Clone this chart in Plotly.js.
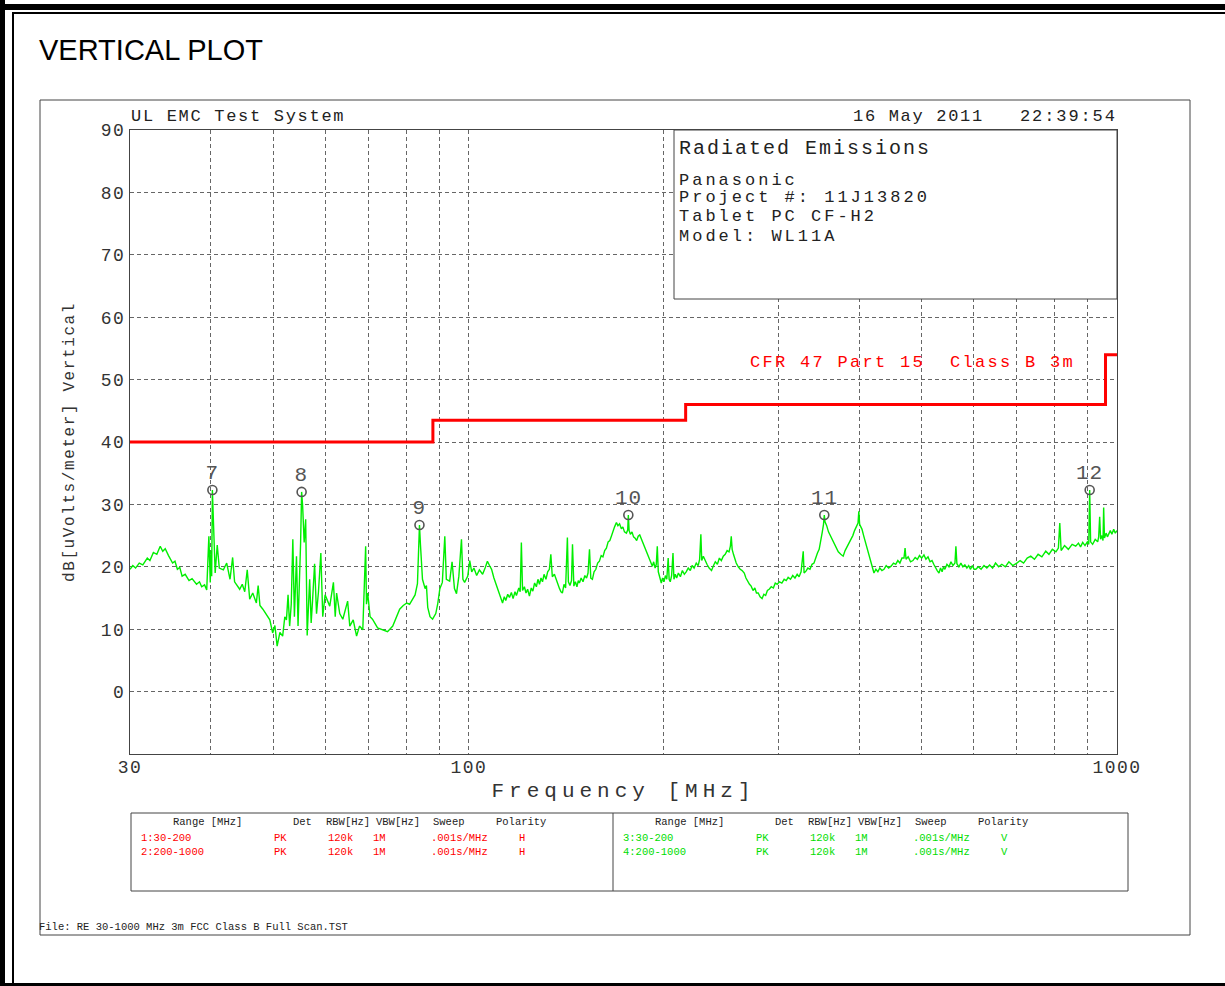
<!DOCTYPE html>
<html><head><meta charset="utf-8">
<script src="https://cdn.plot.ly/plotly-3.0.1.min.js"></script>
<style>
html,body{margin:0;padding:0;background:#fff;}
#chart{width:1225px;height:986px;}
.xtick text,.ytick text{letter-spacing:1.5px;}
.g-xtitle text{letter-spacing:5px;}
.g-ytitle text{letter-spacing:1.6px;}
</style></head><body><div id="chart"></div>
<script>
// ---------------- DATA ----------------
// Measured spectrum (vertical polarity), frequency in MHz
const freqMHz = [
 30.0,30.3,30.6,31.0,31.4,31.9,32.2,32.6,33.0,33.4,33.7,34.0,34.4,34.9,35.2,35.5,35.8,36.1,36.5,37.0,
 37.4,38.0,38.4,38.7,39.1,39.4,39.7,39.9,40.0,40.1,40.2,40.4,40.6,40.9,41.2,41.8,42.3,42.8,43.2,43.5,
 44.3,44.7,45.1,45.5,45.9,46.4,47.0,47.3,47.6,48.1,48.7,49.3,49.8,50.2,50.6,50.9,51.1,51.6,52.0,52.3,
 52.6,52.9,53.2,53.5,53.8,54.2,54.5,55.0,55.2,55.4,55.7,56.0,56.3,56.8,57.1,57.4,57.8,58.2,58.6,59.1,
 59.5,60.0,61.0,61.8,62.2,62.5,63.2,63.9,64.5,65.0,65.5,66.3,67.1,67.8,68.6,69.3,69.5,69.8,70.4,71.0,
 72.3,73.6,74.9,76.3,77.2,78.2,79.2,80.2,81.0,81.9,82.6,83.3,83.9,84.2,84.8,85.6,86.0,86.4,87.1,87.9,
 88.9,89.5,90.2,91.0,91.8,92.3,93.4,94.2,95.0,95.7,96.5,97.4,97.9,98.5,99.6,
 100.3,101.0,101.8,102.8,103.8,105.0,106.0,106.8,107.6,108.4,109.3,110.3,111.5,112.1,112.7,113.4,114.0,114.8,115.5,116.3,
 117.0,117.8,118.4,119.4,120.0,120.5,121.0,121.8,122.5,123.2,124.0,124.8,125.5,126.3,127.1,127.8,128.5,129.2,129.9,130.6,
 131.5,132.3,133.1,133.8,134.5,135.5,136.5,137.2,138.0,138.7,139.4,140.2,141.0,141.9,142.4,143.2,144.0,144.5,145.2,146.0,
 146.8,147.5,148.1,149.0,150.0,151.0,151.9,152.7,153.5,154.2,155.1,156.0,157.0,158.0,159.0,160.0,161.0,162.0,163.0,164.0,
 165.0,165.9,166.8,167.8,168.9,169.8,170.8,171.9,172.8,173.8,175.0,175.8,176.2,176.7,177.5,178.5,179.5,180.5,181.5,182.5,
 183.5,184.5,185.5,186.5,187.8,189.0,190.0,191.0,191.9,192.8,193.8,194.6,195.3,196.0,197.0,198.1,199.0,200.0,201.0,202.0,
 203.0,203.7,204.5,
 205.5,206.5,207.2,208.2,209.2,210.5,212.0,213.5,215.0,216.4,218.0,219.6,221.0,222.6,224.3,225.8,227.0,228.0,228.7,230.0,
 231.5,233.0,234.8,236.8,238.5,240.0,241.8,243.5,245.2,246.9,248.6,250.3,252.0,253.2,254.0,254.8,256.0,257.2,258.5,260.4,
 262.2,264.0,266.0,267.6,269.2,271.0,272.6,274.4,276.2,277.8,279.5,281.4,283.4,285.2,287.0,288.8,290.6,292.8,295.0,297.0,
 299.0,301.5,304.0,306.5,308.8,310.9,313.5,316.0,318.5,321.0,323.2,325.5,328.0,329.0,331.2,333.5,336.0,338.4,340.8,343.0,
 345.0,347.1,349.0,351.0,352.5,353.5,354.4,356.5,358.8,361.0,363.4,366.0,368.8,371.5,374.8,378.0,380.6,383.2,386.0,388.9,
 391.2,393.6,396.0,398.5,399.6,400.8,402.5,404.2,406.5,409.0,411.6,414.3,416.8,419.2,421.7,424.6,427.6,430.5,433.8,437.0,
 440.4,444.2,448.2,452.0,455.6,459.0,462.4,465.8,469.2,471.0,472.6,476.2,480.2,484.3,488.2,492.0,495.8,499.6,503.6,507.2,
 511.0,514.6,518.3,521.5,524.8,528.0,531.3,534.2,537.2,540.0,542.6,546.5,550.5,554.4,558.4,562.3,564.2,566.2,570.2,574.3,
 578.4,582.5,586.6,590.4,594.0,598.2,601.8,605.6,611.0,617.0,623.5,629.7,636.0,642.8,649.5,656.8,664.2,672.5,681.0,690.5,
 700.5,708.8,717.5,726.8,736.1,745.8,755.6,765.8,776.3,785.2,794.8,805.0,812.0,816.0,820.0,830.0,841.2,852.6,863.6,872.0,
 878.5,885.3,892.5,900.0,904.5,907.5,910.5,917.0,925.5,933.7,937.0,940.3,943.5,948.0,951.5,953.7,956.5,962.0,966.5,970.8,
 976.5,982.0,988.3,994.0,1000.0
];
// Measured level, dB[uV/m]
const levelDb = [
 19.6,20.2,19.8,20.6,20.3,21.4,21.0,22.3,22.0,23.3,22.5,22.9,21.8,20.6,20.9,19.6,19.9,18.5,18.8,17.8,
 18.1,17.2,17.6,16.8,17.1,16.3,24.9,17.5,22.6,18.5,32.3,26.8,19.0,23.5,19.8,19.5,20.6,18.0,21.5,17.6,
 16.4,17.2,16.0,19.5,14.8,15.8,14.2,17.0,13.8,13.2,12.4,11.5,9.4,10.6,7.3,9.0,9.5,8.9,12.0,11.5,
 15.5,10.5,14.0,24.4,12.0,21.7,10.5,23.9,32.0,29.7,23.9,27.6,9.0,18.0,11.0,14.8,20.5,12.5,16.0,22.2,
 12.0,15.5,13.7,17.5,12.0,15.8,12.5,11.6,13.0,14.5,10.5,11.5,8.9,10.5,9.9,23.3,14.0,15.8,12.0,11.6,
 10.2,9.9,9.6,10.5,11.8,13.2,13.8,14.2,14.0,14.8,15.5,17.3,26.7,23.5,18.0,16.5,17.0,13.5,12.0,11.6,
 12.5,14.0,16.5,17.5,24.9,18.0,17.7,20.8,16.5,15.7,18.5,24.4,18.0,17.5,18.5,
 21.0,19.2,19.8,18.6,19.5,18.8,19.9,20.9,20.2,19.6,18.2,16.9,15.6,14.6,14.2,15.2,14.6,15.6,15.1,15.9,
 14.9,16.0,15.4,16.6,16.0,23.9,16.2,16.8,15.8,16.4,15.3,16.6,16.1,17.4,16.8,18.0,17.2,18.2,17.6,18.8,
 18.0,19.2,19.6,22.0,18.4,18.8,17.8,17.0,16.5,16.0,15.8,17.2,16.6,24.7,17.6,17.0,17.8,23.6,16.9,17.6,
 16.8,17.8,17.4,18.2,17.6,18.6,18.2,19.0,22.8,18.2,18.0,19.2,19.6,20.6,20.9,21.8,21.6,22.6,23.0,24.0,
 24.2,24.9,25.8,26.4,27.1,26.6,26.9,26.1,26.4,25.6,25.4,25.9,28.3,25.8,25.2,25.6,24.8,24.6,24.2,24.9,
 25.1,24.5,24.0,23.4,22.6,21.9,21.2,20.6,20.1,20.8,19.8,20.4,23.3,19.2,18.2,17.4,18.2,17.6,18.6,18.0,
 21.4,18.0,17.6,
 18.6,22.2,18.0,18.8,18.2,19.0,18.4,19.4,18.8,19.2,19.8,19.4,20.2,19.8,20.6,20.2,21.2,25.2,21.0,21.7,
 21.0,20.4,19.8,19.4,20.2,20.8,20.4,21.4,21.0,21.7,22.0,22.6,22.4,23.3,24.9,22.8,22.0,21.2,20.6,20.0,
 19.6,19.4,19.0,18.2,17.6,17.2,16.9,16.2,16.6,15.8,15.8,15.2,14.9,15.6,15.4,16.2,16.4,16.8,16.6,17.4,
 17.2,17.6,17.4,18.0,17.8,18.3,18.0,18.6,18.2,18.8,18.4,19.2,22.5,19.0,19.3,19.8,19.6,20.4,20.6,21.6,
 22.2,22.8,24.0,25.6,26.8,28.3,27.2,26.6,25.6,25.0,24.6,23.8,23.0,22.4,22.0,21.7,22.6,23.2,23.8,24.4,
 25.0,25.8,26.4,27.0,28.9,26.8,26.4,26.0,25.0,24.0,23.0,22.2,21.2,20.2,19.0,19.6,19.2,19.8,19.4,19.6,
 20.2,19.8,20.1,20.6,20.4,21.0,20.6,21.4,21.4,23.0,21.2,21.6,20.8,21.0,21.5,21.2,21.8,21.4,21.9,21.2,
 21.6,20.8,21.0,20.4,19.8,19.4,19.0,19.8,19.2,20.0,19.6,20.4,20.0,20.8,20.2,20.6,23.3,20.5,20.0,20.6,
 20.0,20.3,19.8,20.2,19.6,20.2,19.6,19.6,20.0,19.6,20.2,19.8,20.3,19.8,20.6,20.0,20.4,20.0,20.8,20.2,
 20.6,21.0,20.6,21.4,21.7,21.2,22.0,21.6,22.5,22.0,22.8,22.4,23.0,27.0,22.6,23.4,22.8,23.6,23.3,23.8,
 23.2,23.9,23.4,24.0,23.6,32.3,24.0,23.6,24.4,24.0,24.8,28.0,24.4,25.0,24.2,29.5,24.6,25.4,24.8,25.2,
 25.8,25.2,26.0,25.4,25.8
];
// FCC Part 15 Class B 3m limit
const limitFreq = [30, 88, 216, 960, 1000];
const limitLevel = [40, 43.5, 46, 54, 54];
// Peak markers
const markerFreq = [40.2, 55.2, 83.9, 176.2, 353.5, 907.5];
const markerLevel = [32.3, 32.0, 26.7, 28.3, 28.3, 32.3];
const markerLabel = ['7', '8', '9', '10', '11', '12'];
// Axis ticks
const xGridFreq = [30,40,50,60,70,80,90,100,200,300,400,500,600,700,800,900,1000];
const xTickText = ['30','','','','','','','100','','','','','','','','','1000'];
const yTickVals = [0,10,20,30,40,50,60,70,80,90];
// Texts
const infoLines = ['Panasonic', 'Project #: 11J13820', 'Tablet PC CF-H2', 'Model: WL11A'];
const tableHeaders = ['Range [MHz]','Det','RBW[Hz]','VBW[Hz]','Sweep','Polarity'];
const rowsH = [['1:30-200','PK','120k','1M','.001s/MHz','H'], ['2:200-1000','PK','120k','1M','.001s/MHz','H']];
const rowsV = [['3:30-200','PK','120k','1M','.001s/MHz','V'], ['4:200-1000','PK','120k','1M','.001s/MHz','V']];

// ---------------- LAYOUT HELPERS ----------------
const L=130, T=130, R=1117, B=754, PW=R-L, PH=B-T;
const X = px => (px-L)/PW;
const Y = py => (B-py)/PH;
const MONO = 'Liberation Mono, DejaVu Sans Mono, monospace';
const anns = [], spacing = [];
function txt(text, px, py, size, color, ls, family){
  anns.push({text:text, xref:'paper', yref:'paper', x:X(px), y:Y(py), xanchor:'left', yanchor:'middle',
    align:'left', showarrow:false, borderpad:0, font:{family:family||MONO, size:size, color:color}});
  spacing.push(ls||0);
}
txt('VERTICAL PLOT', 38, 50, 29, '#000', 0, 'Liberation Sans, Arial, sans-serif');
txt('UL EMC Test System', 130, 116, 17, '#222', 1.7);
txt('16 May 2011', 852, 116, 17, '#222', 1.7);
txt('22:39:54', 1019, 116, 17, '#222', 1.9);
txt('Radiated Emissions', 678, 148, 20, '#222', 2);
const infoY = [180, 198, 217, 237];
infoLines.forEach((s,i)=>txt(s, 678, infoY[i], 17, '#222', 3));
txt('CFR 47 Part 15  Class B 3m', 749, 362, 17, '#ff0000', 2.3);
const colH = [172,292,325,375,432,495], colR = [140,273,327,372,430,518];
const offs = 482;
tableHeaders.forEach((s,i)=>{ txt(s, colH[i], 822, 10.5, '#222', 0); txt(s, colH[i]+offs, 822, 10.5, '#222', 0); });
rowsH.forEach((r,j)=>r.forEach((s,i)=>txt(s, colR[i], 838+14*j, 10.5, '#ff0000', 0)));
rowsV.forEach((r,j)=>r.forEach((s,i)=>txt(s, colR[i]+offs, 838+14*j, 10.5, '#00dd00', 0)));
txt('File: RE 30-1000 MHz 3m FCC Class B Full Scan.TST', 38, 927, 10.5, '#222', 0);
// marker numbers above the 'o' symbols, from data
markerFreq.forEach((f,i)=>{
  anns.push({text:markerLabel[i], x:Math.log10(f), y:markerLevel[i], xref:'x', yref:'y', showarrow:false,
    xanchor:'center', yanchor:'bottom', yshift:4, borderpad:0, font:{family:MONO, size:21, color:'#555'}});
  spacing.push(1);
});

const shapes = [
  {type:'line', xref:'paper', yref:'paper', x0:X(0), x1:X(1225), y0:Y(7), y1:Y(7), line:{color:'#000', width:6}},
  {type:'line', xref:'paper', yref:'paper', x0:X(2.5), x1:X(2.5), y0:Y(0), y1:Y(986), line:{color:'#000', width:5}},
  {type:'line', xref:'paper', yref:'paper', x0:X(0), x1:X(1225), y0:Y(984.5), y1:Y(984.5), line:{color:'#000', width:3}},
  {type:'line', xref:'paper', yref:'paper', x0:X(12), x1:X(1225), y0:Y(13), y1:Y(13), line:{color:'#000', width:2}},
  {type:'line', xref:'paper', yref:'paper', x0:X(13), x1:X(13), y0:Y(12), y1:Y(986), line:{color:'#000', width:2}},
  {type:'rect', xref:'paper', yref:'paper', x0:X(40), x1:X(1190), y0:Y(100), y1:Y(935), line:{color:'#444', width:1}, layer:'below'},
  {type:'rect', xref:'paper', yref:'paper', x0:X(674), x1:X(1117), y0:Y(130), y1:Y(299), line:{color:'#444', width:1}, fillcolor:'#fff', layer:'above'},
  {type:'rect', xref:'paper', yref:'paper', x0:X(131), x1:X(1128), y0:Y(813), y1:Y(891), line:{color:'#444', width:1}},
  {type:'line', xref:'paper', yref:'paper', x0:X(613), x1:X(613), y0:Y(813), y1:Y(891), line:{color:'#444', width:1}}
];

const traces = [
  {x:freqMHz, y:levelDb, type:'scatter', mode:'lines', line:{color:'#00ee00', width:1.4}, hoverinfo:'skip'},
  {x:limitFreq, y:limitLevel, type:'scatter', mode:'lines', line:{color:'#ff0000', width:3, shape:'hv'}, hoverinfo:'skip'},
  {x:markerFreq, y:markerLevel, type:'scatter', mode:'markers', hoverinfo:'skip',
   marker:{symbol:'circle-open', size:9, color:'#555', line:{width:1.6, color:'#555'}}}
];

const layout = {
  width:1225, height:986, margin:{l:L, r:1225-R, t:T, b:986-B},
  paper_bgcolor:'#fff', plot_bgcolor:'#fff', showlegend:false,
  xaxis:{type:'log', range:[Math.log10(30), 3], tickvals:xGridFreq, ticktext:xTickText, ticks:'',
    showgrid:true, gridcolor:'#666', griddash:'4px,3px', gridwidth:1, zeroline:false,
    showline:true, mirror:true, linecolor:'#444', linewidth:1, ticklabelstandoff:-4,
    tickfont:{family:MONO, size:18, color:'#333'},
    title:{text:'Frequency [MHz]', font:{family:MONO, size:21, color:'#333'}, standoff:5}},
  yaxis:{range:[-10, 90], tickvals:yTickVals, ticks:'',
    showgrid:true, gridcolor:'#666', griddash:'4px,3px', gridwidth:1, zeroline:false,
    showline:true, mirror:true, linecolor:'#444', linewidth:1,
    tickfont:{family:MONO, size:18, color:'#333'},
    title:{text:'dB[uVolts/meter] Vertical', font:{family:MONO, size:16, color:'#333'}, standoff:22}},
  shapes:shapes, annotations:anns
};

Plotly.newPlot('chart', traces, layout, {staticPlot:true}).then(()=>{
  document.querySelectorAll('#chart g.annotation').forEach(g=>{
    const i = +g.getAttribute('data-index');
    const t = g.querySelector('text.annotation-text');
    if (t && spacing[i]) t.style.letterSpacing = spacing[i] + 'px';
  });
});
</script></body></html>
